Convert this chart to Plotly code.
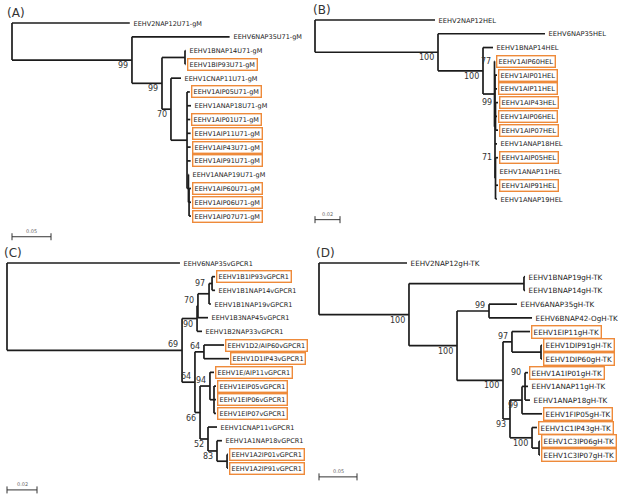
import plotly.graph_objects as go

# ================= DATA =================
# Panel A : U71-gM   (depth = distance from root, substitutions/site)
A_leaves = ["EEHV2NAP12U71-gM", "EEHV6NAP35U71-gM", "EEHV1BNAP14U71-gM", "EEHV1BIP93U71-gM",
            "EEHV1CNAP11U71-gM", "EEHV1AIP05U71-gM", "EEHV1ANAP18U71-gM", "EEHV1AIP01U71-gM",
            "EEHV1AIP11U71-gM", "EEHV1AIP43U71-gM", "EEHV1AIP91U71-gM", "EEHV1ANAP19U71-gM",
            "EEHV1AIP60U71-gM", "EEHV1AIP06U71-gM", "EEHV1AIP07U71-gM"]
A_leaf_depth = [0.151, 0.279, 0.2225, 0.2225, 0.2167, 0.228, 0.2295, 0.2285, 0.229, 0.229,
                0.229, 0.227, 0.2295, 0.2295, 0.2295]
A_boxed = [0, 0, 0, 1, 0, 1, 0, 1, 1, 1, 1, 0, 1, 1, 1]
A_node_ids = ["NB", "NA3", "NX", "NA", "N70", "N99b", "N99a", "root"]
A_node_children = [[2, 3], [12, 13, 14], [11, "NA3"], [5, 6, 7, 8, 9, 10, "NX"], [4, "NA"],
                   ["NB", "N70"], [1, "N99b"], [0, "N99a"]]
A_node_depth = [0.2218, 0.2270, 0.2262, 0.2244, 0.2038, 0.1923, 0.1538, 0.0]
A_support = ["", "", "", "", "70", "99", "99", ""]

# Panel B : HEL
B_leaves = ["EEHV2NAP12HEL", "EEHV6NAP35HEL", "EEHV1BNAP14HEL", "EEHV1AIP60HEL", "EEHV1AIP01HEL",
            "EEHV1AIP11HEL", "EEHV1AIP43HEL", "EEHV1AIP06HEL", "EEHV1AIP07HEL", "EEHV1ANAP18HEL",
            "EEHV1AIP05HEL", "EEHV1ANAP11HEL", "EEHV1AIP91HEL", "EEHV1ANAP19HEL"]
B_leaf_depth = [0.096, 0.184, 0.1424, 0.1440, 0.1456, 0.1456, 0.1464, 0.1456, 0.1464, 0.1456,
                0.1464, 0.1448, 0.1464, 0.1456]
B_boxed = [0, 0, 0, 1, 1, 1, 1, 1, 1, 0, 1, 0, 1, 0]
B_node_ids = ["N99", "N71", "Nrest", "N1A", "N100b", "N100a", "root"]
B_node_children = [[6, 7, 8], [10, 11, 12, 13], [4, 5, "N99", 9, "N71"], [3, "Nrest"],
                   [2, "N1A"], [1, "N100b"], [0, "N100a"]]
B_node_depth = [0.1444, 0.1444, 0.1440, 0.1436, 0.1344, 0.0984, 0.0]
B_support = ["99", "71", "", "77", "100", "100", ""]

# Panel C : vGPCR1
C_leaves = ["EEHV6NAP35vGPCR1", "EEHV1B1IP93vGPCR1", "EEHV1B1NAP14vGPCR1", "EEHV1B1NAP19vGPCR1",
            "EEHV1B3NAP45vGPCR1", "EEHV1B2NAP33vGPCR1", "EEHV1D2/AIP60vGPCR1", "EEHV1D1IP43vGPCR1",
            "EEHV1E/AIP11vGPCR1", "EEHV1EIP05vGPCR1", "EEHV1EIP06vGPCR1", "EEHV1EIP07vGPCR1",
            "EEHV1CNAP11vGPCR1", "EEHV1A1NAP18vGPCR1", "EEHV1A2IP01vGPCR1", "EEHV1A2IP91vGPCR1"]
C_leaf_depth = [0.1153, 0.1387, 0.1387, 0.1360, 0.1340, 0.1300, 0.1447, 0.1480, 0.1380, 0.1393,
                0.1393, 0.1393, 0.1400, 0.1433, 0.1473, 0.1473]
C_boxed = [0, 1, 0, 0, 0, 0, 1, 1, 1, 1, 1, 1, 0, 0, 1, 1]
C_node_ids = ["Nb1", "N97", "N70", "N90", "N64a", "Ne", "N94", "Na2", "N83", "N52", "N66",
              "N64b", "N69", "root"]
C_node_children = [[1, 2], ["Nb1", 3], ["N97", 4], ["N70", 5], [6, 7], [9, 10, 11], [8, "Ne"],
                   [14, 15], [13, "Na2"], [12, "N83"], ["N94", "N52"], ["N64a", "N66"],
                   ["N90", "N64b"], [0, "N69"]]
C_node_depth = [0.1367, 0.1347, 0.1273, 0.1267, 0.1313, 0.1380, 0.1353, 0.1467, 0.1400, 0.1340,
                0.1287, 0.1253, 0.1167, 0.0]
C_support = ["", "97", "70", "90", "64", "", "94", "", "83", "52", "66", "64", "69", ""]

# Panel D : gH-TK
D_leaves = ["EEHV2NAP12gH-TK", "EEHV1BNAP19gH-TK", "EEHV1BNAP14gH-TK", "EEHV6ANAP35gH-TK",
            "EEHV6BNAP42-OgH-TK", "EEHV1EIP11gH-TK", "EEHV1DIP91gH-TK", "EEHV1DIP60gH-TK",
            "EEHV1A1IP01gH-TK", "EEHV1ANAP11gH-TK", "EEHV1ANAP18gH-TK", "EEHV1FIP05gH-TK",
            "EEHV1C1IP43gH-TK", "EEHV1C3IP06gH-TK", "EEHV1C3IP07gH-TK"]
D_leaf_depth = [0.1158, 0.2711, 0.2711, 0.2605, 0.2803, 0.2776, 0.2934, 0.2934, 0.2750, 0.2750,
                0.2776, 0.2934, 0.2868, 0.2908, 0.2908]
D_boxed = [0, 0, 0, 0, 0, 1, 1, 1, 1, 0, 0, 1, 1, 1, 1]
D_node_ids = ["NB", "N99", "Nd", "N97", "N90", "N99b", "Nc3", "N100d", "N93", "N100c", "N100b",
              "N100a", "root"]
D_node_children = [[1, 2], [3, 4], [6, 7], [5, "Nd"], [8, 9, 10], ["N90", 11], [13, 14],
                   [12, "Nc3"], ["N99b", "N100d"], ["N97", "N93"], ["N99", "N100c"],
                   ["NB", "N100b"], [0, "N100a"]]
D_node_depth = [0.2697, 0.2237, 0.2921, 0.2539, 0.2711, 0.2671, 0.2895, 0.2803, 0.2513, 0.2421,
                0.1816, 0.1184, 0.0]
D_support = ["", "99", "", "97", "90", "99", "", "100", "93", "100", "100", "100", ""]

scale_lengths = [0.05, 0.02, 0.02, 0.05]
panel_tags = ["(A)", "(B)", "(C)", "(D)"]

# ================= STYLE / LAYOUT =================
W, H = 624, 500
ORANGE = "#EE8A3A"
LINE = "#1c1c1c"
# support label placement: b = below branch, a = above branch, t = level with top child
A_pos = ["", "", "", "", "b", "b", "b", ""]
B_pos = ["t", "t", "", "t", "b", "b", ""]
C_pos = ["", "t", "a", "b", "a", "", "a", "", "b", "b", "b", "a", "a", ""]
D_pos = ["", "a", "", "a", "t", "b", "", "b", "b", "b", "b", "b", ""]

panels = [
    dict(leaves=A_leaves, ldepth=A_leaf_depth, boxed=A_boxed, ids=A_node_ids,
         children=A_node_children, ndepth=A_node_depth, support=A_support, pos=A_pos,
         frame=(0, 312, 0, 250), ox=12, sx=780, y0=23, dy=13.79, font=6.5, srow=15.5,
         tag_xy=(16, 13)),
    dict(leaves=B_leaves, ldepth=B_leaf_depth, boxed=B_boxed, ids=B_node_ids,
         children=B_node_children, ndepth=B_node_depth, support=B_support, pos=B_pos,
         frame=(312, 624, 0, 250), ox=315, sx=1250, y0=20, dy=13.77, font=6.7, srow=14.5,
         tag_xy=(322, 10)),
    dict(leaves=C_leaves, ldepth=C_leaf_depth, boxed=C_boxed, ids=C_node_ids,
         children=C_node_children, ndepth=C_node_depth, support=C_support, pos=C_pos,
         frame=(0, 312, 250, 500), ox=7, sx=1500, y0=263, dy=13.67, font=6.5, srow=16.6,
         tag_xy=(13, 253)),
    dict(leaves=D_leaves, ldepth=D_leaf_depth, boxed=D_boxed, ids=D_node_ids,
         children=D_node_children, ndepth=D_node_depth, support=D_support, pos=D_pos,
         frame=(312, 624, 250, 500), ox=319, sx=760, y0=263, dy=13.71, font=7.2, srow=15.6,
         tag_xy=(325, 253)),
]

fig = go.Figure()
annotations = []
axes = {}

for k, P in enumerate(panels):
    sfx = "" if k == 0 else str(k + 1)
    xa, ya = "x" + sfx, "y" + sfx
    fx0, fx1, fy0, fy1 = P["frame"]
    axes["xaxis" + sfx] = dict(domain=[fx0 / W, fx1 / W],
                              range=[(fx0 - P["ox"]) / P["sx"], (fx1 - P["ox"]) / P["sx"]],
                              visible=False, anchor=ya, fixedrange=True)
    axes["yaxis" + sfx] = dict(domain=[1 - fy1 / H, 1 - fy0 / H],
                              range=[(fy1 - P["y0"]) / P["dy"], (fy0 - P["y0"]) / P["dy"]],
                              visible=False, anchor=xa, fixedrange=True)

    ch = dict(zip(P["ids"], P["children"]))
    nd = dict(zip(P["ids"], P["ndepth"]))
    yof = {}

    def gy(key):
        if isinstance(key, int):
            return float(key)
        if key not in yof:
            ys = [gy(c) for c in ch[key]]
            yof[key] = (min(ys) + max(ys)) / 2.0
        return yof[key]

    def gd(key):
        return P["ldepth"][key] if isinstance(key, int) else nd[key]

    xs, ys = [], []
    for nid in P["ids"]:
        cy = [gy(c) for c in ch[nid]]
        x0 = nd[nid]
        xs += [x0, x0, None]
        ys += [min(cy), max(cy), None]
        for c in ch[nid]:
            xs += [x0, gd(c), None]
            ys += [gy(c), gy(c), None]
    fig.add_trace(go.Scatter(x=xs, y=ys, mode="lines", xaxis=xa, yaxis=ya,
                             line=dict(color=LINE, width=1.7), hoverinfo="skip",
                             showlegend=False))

    # leaf labels
    for i, name in enumerate(P["leaves"]):
        bx = P["boxed"][i]
        annotations.append(dict(
            x=P["ldepth"][i], y=i, xref=xa, yref=ya, text=name, showarrow=False,
            xanchor="left", yanchor="middle", xshift=1,
            font=dict(family="DejaVu Sans", size=P["font"], color="#1a1a1a"),
            bordercolor=ORANGE if bx else "rgba(0,0,0,0)", borderwidth=1.4, borderpad=1.2,
            bgcolor="white" if bx else "rgba(0,0,0,0)"))

    # support values
    for nid, s, pos in zip(P["ids"], P["support"], P["pos"]):
        if not s:
            continue
        if pos == "t":
            yy, ysh = min(gy(c) for c in ch[nid]), 0
        elif pos == "a":
            yy, ysh = gy(nid), 5.5
        else:
            yy, ysh = gy(nid), -5.5
        annotations.append(dict(
            x=nd[nid], y=yy, xref=xa, yref=ya, text=s, showarrow=False,
            xanchor="right", yanchor="middle", xshift=-2, yshift=ysh,
            font=dict(family="DejaVu Sans", size=8, color="#333333")))

    # scale bar
    L = scale_lengths[k]
    fig.add_trace(go.Scatter(x=[0, L], y=[P["srow"], P["srow"]], mode="lines+markers",
                             xaxis=xa, yaxis=ya, line=dict(color="#333333", width=1),
                             marker=dict(symbol="line-ns-open", size=5,
                                         line=dict(color="#333333", width=1)),
                             hoverinfo="skip", showlegend=False))
    annotations.append(dict(x=L / 2, y=P["srow"], xref=xa, yref=ya, text=f"{L:g}",
                            showarrow=False, yshift=6, xanchor="center", yanchor="middle",
                            font=dict(family="DejaVu Sans", size=5, color="#666666")))

    # panel tag
    tx, ty = P["tag_xy"]
    annotations.append(dict(x=tx / W, y=1 - ty / H, xref="paper", yref="paper",
                            text=panel_tags[k], showarrow=False, xanchor="center",
                            yanchor="middle",
                            font=dict(family="DejaVu Sans", size=12, color="#333333")))

fig.update_layout(width=W, height=H, margin=dict(l=0, r=0, t=0, b=0),
                  paper_bgcolor="white", plot_bgcolor="rgba(0,0,0,0)",
                  showlegend=False, annotations=annotations, **axes)

fig.write_html("out.html", config={"displayModeBar": False},
               post_script="document.body.style.margin='0';document.body.style.overflow='hidden';")
